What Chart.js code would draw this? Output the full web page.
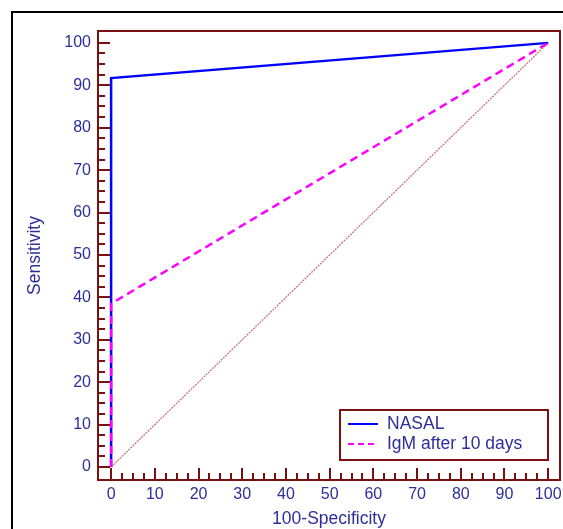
<!DOCTYPE html>
<html><head><meta charset="utf-8">
<script src="https://cdn.jsdelivr.net/npm/chart.js@4"></script>
<style>html,body{margin:0;padding:0;background:#fff}canvas{display:block}</style>
</head><body>
<canvas id="c" width="563" height="529"></canvas>
<script>
// ---- data ----
const nasalX = [0, 0, 100];
const nasalY = [0, 91.7, 100];
const igmX = [0, 0, 100];
const igmY = [0, 38.5, 100];
const refX = [0, 100];
const refY = [0, 100];
const xTickLabels = ['0','10','20','30','40','50','60','70','80','90','100'];
const yTickLabels = ['0','10','20','30','40','50','60','70','80','90','100'];
const seriesNames = ['NASAL', 'IgM after 10 days'];
const xTitle = '100-Specificity';
const yTitle = 'Sensitivity';

const pts = (xs, ys) => xs.map((x, i) => ({x: x, y: ys[i]}));
const MAROON = '#7a1010';
const TXT = '#2e2e9a';
const FAM = '"Liberation Sans", Arial, sans-serif';
const FONT = '16px ' + FAM;
const TFONT = '17.5px ' + FAM;

const deco = {
  id: 'deco',
  beforeDatasetsDraw(chart) {
    const ctx = chart.ctx, a = chart.chartArea;
    const xs = chart.scales.x, ys = chart.scales.y;
    ctx.save();
    // outer frame
    ctx.strokeStyle = '#000'; ctx.lineWidth = 2;
    ctx.beginPath(); ctx.moveTo(12, 529); ctx.lineTo(12, 12); ctx.lineTo(563, 12); ctx.stroke();
    // ticks
    ctx.strokeStyle = MAROON; ctx.lineWidth = 2;
    ctx.beginPath();
    for (let v = 0; v <= 100.001; v += 2.5) {
      const major = Math.abs(v % 10) < 0.01;
      const len = major ? 12 : 7;
      const py = Math.round(ys.getPixelForValue(v));
      ctx.moveTo(a.left, py); ctx.lineTo(a.left + len, py);
      const px = Math.round(xs.getPixelForValue(v));
      ctx.moveTo(px, a.bottom); ctx.lineTo(px, a.bottom - len);
    }
    ctx.stroke();
    // tick labels
    ctx.fillStyle = TXT; ctx.font = FONT;
    ctx.textAlign = 'right'; ctx.textBaseline = 'middle';
    yTickLabels.forEach(t => ctx.fillText(t, a.left - 7, ys.getPixelForValue(+t)));
    ctx.textAlign = 'center'; ctx.textBaseline = 'middle';
    xTickLabels.forEach(t => ctx.fillText(t, xs.getPixelForValue(+t), a.bottom + 15));
    // titles
    ctx.font = TFONT;
    ctx.fillText(xTitle, (a.left + a.right) / 2, 519);
    ctx.save();
    ctx.translate(35, (a.top + a.bottom) / 2);
    ctx.rotate(-Math.PI / 2);
    ctx.fillText(yTitle, 0, 0);
    ctx.restore();
    ctx.restore();
  },
  afterDatasetsDraw(chart) {
    const ctx = chart.ctx, a = chart.chartArea;
    ctx.save();
    // plot border
    ctx.strokeStyle = MAROON; ctx.lineWidth = 2;
    ctx.strokeRect(a.left, a.top, a.right - a.left, a.bottom - a.top);
    // legend
    const lx = 340, ly = 410, lw = 208, lh = 50;
    ctx.fillStyle = '#fff'; ctx.fillRect(lx, ly, lw, lh);
    ctx.strokeRect(lx, ly, lw, lh);
    const rows = [{c: '#0000ff', d: []}, {c: '#ff00ff', d: [6, 4]}];
    rows.forEach((r, i) => {
      const y = ly + 14 + i * 20;
      ctx.strokeStyle = r.c; ctx.lineWidth = 2; ctx.setLineDash(r.d);
      ctx.beginPath(); ctx.moveTo(lx + 8, y); ctx.lineTo(lx + 38, y); ctx.stroke();
      ctx.setLineDash([]);
      ctx.fillStyle = TXT; ctx.font = TFONT; ctx.textAlign = 'left'; ctx.textBaseline = 'middle';
      ctx.fillText(seriesNames[i], lx + 47, y);
    });
    ctx.restore();
  }
};

new Chart(document.getElementById('c'), {
  type: 'scatter',
  data: {
    datasets: [
      {label: 'ref', data: pts(refX, refY), showLine: true, borderColor: 'rgba(175,60,60,0.75)', borderWidth: 1.2, borderDash: [2, 1], pointRadius: 0, order: 3},
      {label: seriesNames[0], data: pts(nasalX, nasalY), showLine: true, borderColor: '#0000ff', borderWidth: 2.5, pointRadius: 0, order: 2},
      {label: seriesNames[1], data: pts(igmX, igmY), showLine: true, borderColor: '#ff00ff', borderWidth: 2.5, borderDash: [8, 5], pointRadius: 0, order: 1}
    ]
  },
  options: {
    responsive: false, animation: false,
    layout: {padding: {left: 98, top: 31, right: 3, bottom: 49}},
    scales: {
      x: {type: 'linear', display: false, min: -3, max: 102.7},
      y: {type: 'linear', display: false, min: -3.07, max: 102.8}
    },
    plugins: {legend: {display: false}, tooltip: {enabled: false}}
  },
  plugins: [deco]
});
</script>
</body></html>
